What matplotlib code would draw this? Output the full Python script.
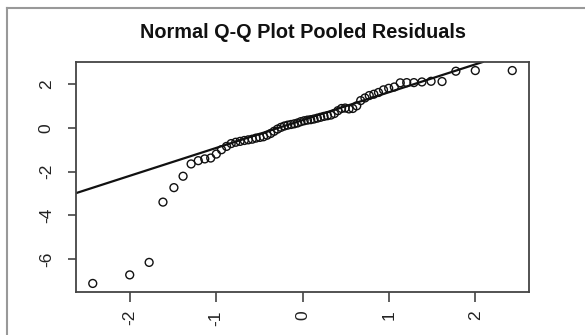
import matplotlib
matplotlib.use('Agg')
import matplotlib.pyplot as plt
from matplotlib.lines import Line2D

plt.rcParams['font.family'] = ['Liberation Sans', 'DejaVu Sans']

# theoretical quantiles (x) and sorted pooled residuals (y)
theo = [-2.429, -2.001, -1.776, -1.616, -1.489, -1.383, -1.290, -1.207, -1.132, -1.063,
        -0.998, -0.938, -0.880, -0.826, -0.773, -0.723, -0.674, -0.628, -0.582, -0.538,
        -0.494, -0.452, -0.410, -0.369, -0.329, -0.289, -0.249, -0.210, -0.172, -0.133,
        -0.095, -0.057, -0.019, 0.019, 0.057, 0.095, 0.133, 0.172, 0.210, 0.249,
        0.289, 0.329, 0.369, 0.410, 0.452, 0.494, 0.538, 0.582, 0.628, 0.674,
        0.723, 0.773, 0.826, 0.880, 0.938, 0.998, 1.063, 1.132, 1.207, 1.290,
        1.383, 1.489, 1.616, 1.776, 2.001, 2.429]
resid = [-7.10, -6.71, -6.14, -3.39, -2.73, -2.21, -1.65, -1.50, -1.42, -1.38,
         -1.20, -1.00, -0.85, -0.72, -0.66, -0.62, -0.58, -0.55, -0.52, -0.47,
         -0.44, -0.41, -0.34, -0.26, -0.16, -0.06, 0.02, 0.08, 0.12, 0.15,
         0.18, 0.22, 0.28, 0.32, 0.35, 0.37, 0.40, 0.44, 0.48, 0.52,
         0.55, 0.58, 0.65, 0.78, 0.88, 0.90, 0.86, 0.88, 1.00, 1.24,
         1.36, 1.47, 1.53, 1.61, 1.73, 1.80, 1.86, 2.05, 2.06, 2.06,
         2.09, 2.12, 2.11, 2.58, 2.61, 2.61]

# qq line
line_icpt = 0.35
line_slope = 1.27

xticks = [-2, -1, 0, 1, 2]
yticks = [-6, -4, -2, 0, 2]

fig = plt.figure(figsize=(5.85, 3.35), dpi=100)
ax = fig.add_axes([76 / 585, 1 - 292 / 335, (529 - 76) / 585, (292 - 62) / 335])

ax.scatter(theo, resid, s=32, facecolors='none', edgecolors='#111111', linewidths=1.0, zorder=3)
ax.axline((0, line_icpt), slope=line_slope, color='#111111', lw=1.6, zorder=2)

ax.set_xlim(-2.623, 2.623)
ax.set_ylim(-7.49, 3.0)
ax.set_xticks(xticks)
ax.set_yticks(yticks)
ax.set_xticklabels([str(v) for v in xticks], rotation=90, fontsize=12.5, color='#222222')
ax.set_yticklabels([str(v) for v in yticks], rotation=90, fontsize=12.5, color='#222222', va='center')
ax.tick_params(axis='x', length=7, width=1.2, color='#444444', pad=6)
ax.tick_params(axis='y', length=6, width=1.2, color='#444444', pad=10)
for s in ax.spines.values():
    s.set_linewidth(1.3)
    s.set_color('#444444')

fig.text(302.5 / 585, 1 - 33 / 335, 'Normal Q-Q Plot Pooled Residuals', ha='center', va='center',
         fontsize=14.3, fontweight='bold', color='#111111')

# screenshot frame (left and top edges only)
fig.add_artist(Line2D([6.5 / 585, 6.5 / 585], [0, 1 - 7.5 / 335], transform=fig.transFigure,
                      color='#999999', lw=1.5))
fig.add_artist(Line2D([6.5 / 585, 1], [1 - 7.5 / 335, 1 - 7.5 / 335], transform=fig.transFigure,
                      color='#999999', lw=1.5))

fig.savefig('out.png', dpi=100)
